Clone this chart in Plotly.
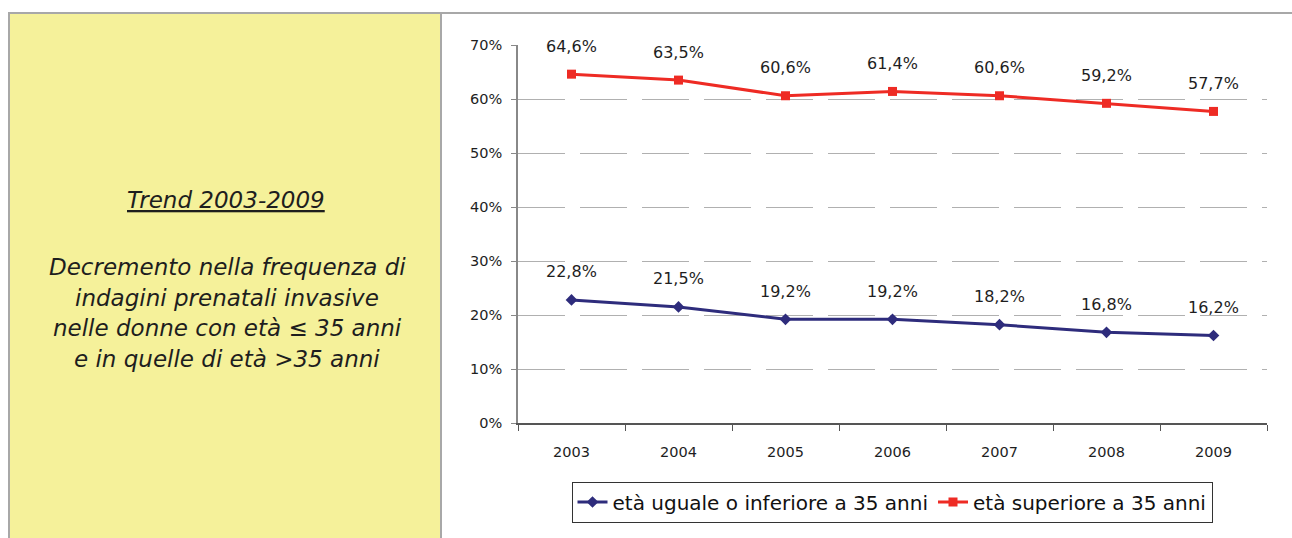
import plotly.graph_objects as go

W, H = 1292, 538

years = ["2003", "2004", "2005", "2006", "2007", "2008", "2009"]
under35 = [22.8, 21.5, 19.2, 19.2, 18.2, 16.8, 16.2]
over35 = [64.6, 63.5, 60.6, 61.4, 60.6, 59.2, 57.7]
name_under = "età uguale o inferiore a 35 anni"
name_over = "età superiore a 35 anni"

side_lines = [
    "Decremento nella frequenza di",
    "indagini prenatali invasive",
    "nelle donne con età ≤ 35 anni",
    "e in quelle di età >35 anni",
]

red = "#EE2B24"
blue = "#2E2C7C"

def px(x):
    return x / W

def py(y):
    return 1 - y / H

fig = go.Figure()
fig.add_trace(go.Scatter(x=years, y=under35, name=name_under, mode="lines+markers",
                         line=dict(color=blue, width=3),
                         marker=dict(symbol="diamond", size=9, color=blue)))
fig.add_trace(go.Scatter(x=years, y=over35, name=name_over, mode="lines+markers",
                         line=dict(color=red, width=3),
                         marker=dict(symbol="square", size=9, color=red)))

ann = []
for series in (under35, over35):
    for i, v in enumerate(series):
        ann.append(dict(x=i, y=v, xref="x", yref="y", yshift=28, showarrow=False,
                        text=f"{v:.1f}%".replace(".", ","),
                        font=dict(family="DejaVu Sans", size=16, color="#1e1e1e")))

# left panel text
ann.append(dict(x=px(226), y=py(200), xref="paper", yref="paper", showarrow=False,
                xanchor="center", yanchor="middle",
                text="<i><u>Trend 2003-2009</u></i>",
                font=dict(family="DejaVu Sans", size=23, color="#1e1e1e")))
for i, t in enumerate(side_lines):
    ann.append(dict(x=px(227), y=py(267 + 30.5 * i), xref="paper", yref="paper",
                    xanchor="center", yanchor="middle",
                    showarrow=False, text=f"<i>{t}</i>",
                    font=dict(family="DejaVu Sans", size=23, color="#1e1e1e")))

shapes = [
    dict(type="rect", xref="paper", yref="paper", x0=px(9), x1=px(441), y0=-0.01, y1=py(13),
         fillcolor="#F5F19A", line=dict(color="#A8A8A8", width=2), layer="below"),
    dict(type="line", xref="paper", yref="paper", x0=px(441), x1=1, y0=py(13), y1=py(13),
         line=dict(color="#A8A8A8", width=2)),
]

fig.update_layout(
    width=W, height=H,
    margin=dict(l=0, r=0, t=0, b=0, autoexpand=False),
    paper_bgcolor="white", plot_bgcolor="white",
    showlegend=True,
    legend=dict(orientation="h", x=px(892), xanchor="center", y=py(502), yanchor="middle",
                bordercolor="#333", borderwidth=1, bgcolor="white",
                font=dict(family="DejaVu Sans", size=20, color="#111"),
                itemwidth=30, tracegroupgap=0),
    xaxis=dict(domain=[px(518), px(1267)], type="category", tickson="boundaries",
               showgrid=False, showline=True, linecolor="#555", linewidth=1.5,
               ticks="outside", ticklen=6, tickcolor="#555", ticklabelstandoff=15,
               tickfont=dict(family="DejaVu Sans", size=14.5, color="#1e1e1e"),
               range=[-0.5, 6.5], fixedrange=True, automargin=False),
    yaxis=dict(domain=[py(423), py(45)], range=[0, 70], dtick=10, ticksuffix="%",
               showgrid=True, gridcolor="#B0B0B0", gridwidth=1, griddash="47px,15px",
               showline=True, linecolor="#888", linewidth=1.5, zeroline=False,
               ticks="outside", ticklen=5, tickcolor="#888", automargin=False,
               ticklabelstandoff=6,
               tickfont=dict(family="DejaVu Sans", size=14.5, color="#1e1e1e")),
    annotations=ann,
    shapes=shapes,
)

fig.write_html("out.html", config={"displayModeBar": False},
               post_script="document.body.style.margin='0';")
